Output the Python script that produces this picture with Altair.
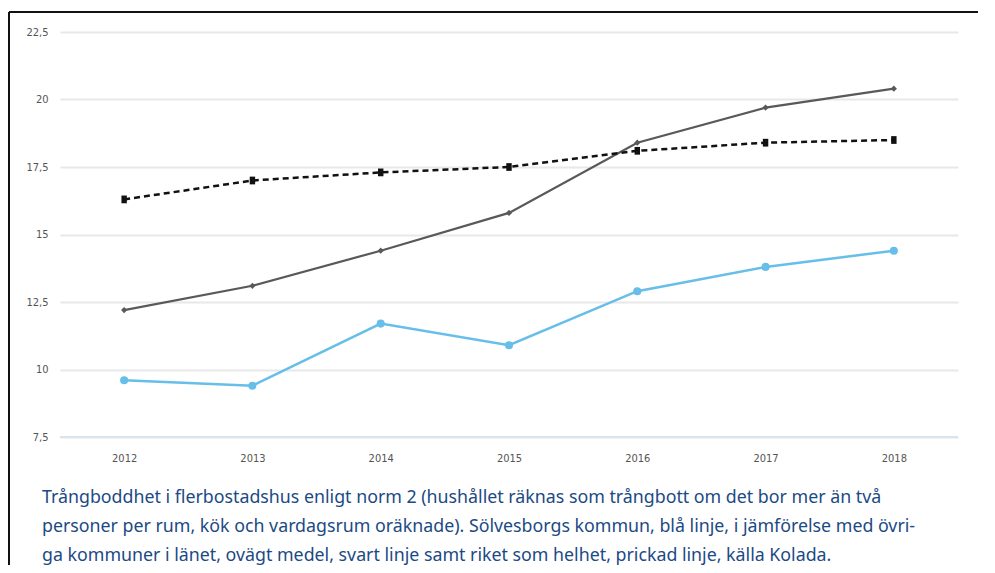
import altair as alt
import pandas as pd

years = ["2012", "2013", "2014", "2015", "2016", "2017", "2018"]
solvesborg = [9.6, 9.4, 11.7, 10.9, 12.9, 13.8, 14.4]
lanet = [12.2, 13.1, 14.4, 15.8, 18.4, 19.7, 20.4]
riket = [16.3, 17.0, 17.3, 17.5, 18.1, 18.4, 18.5]
y_ticks = [7.5, 10, 12.5, 15, 17.5, 20, 22.5]
caption_lines = [
    "Trångboddhet i flerbostadshus enligt norm 2 (hushållet räknas som trångbott om det bor mer än två",
    "personer per rum, kök och vardagsrum oräknade). Sölvesborgs kommun, blå linje, i jämförelse med övri-",
    "ga kommuner i länet, ovägt medel, svart linje samt riket som helhet, prickad linje, källa Kolada.",
]

df = pd.DataFrame({
    "year": years * 3,
    "value": solvesborg + lanet + riket,
    "series": ["Sölvesborg"] * 7 + ["Länet"] * 7 + ["Riket"] * 7,
})

label_font = "Liberation Sans Narrow, DejaVu Sans Condensed, sans-serif"
base = alt.Chart(df)
x = alt.X("year:O", title=None,
          scale=alt.Scale(type="point", padding=0.5),
          axis=alt.Axis(labelAngle=0, domain=False, ticks=False, grid=False,
                        labelPadding=15, labelFontSize=11, labelColor="#555",
                        labelFont=label_font))
y = alt.Y("value:Q", title=None,
          scale=alt.Scale(domain=[7.5, 22.5], nice=False, zero=False),
          axis=alt.Axis(values=y_ticks, domain=False, ticks=False, grid=True,
                        gridColor="#e8e8e8", gridWidth=2,
                        labelExpr="replace(format(datum.value, '.1~f'), '.', ',')",
                        labelPadding=12, labelFontSize=11, labelColor="#555",
                        labelFont=label_font))

bottom_rule = alt.Chart(pd.DataFrame({"v": [7.5]})).mark_rule(color="#d8e4ef", strokeWidth=2).encode(y=alt.Y("v:Q"))

def series_layers(name, color, dash, shape, size, width):
    f = base.transform_filter(alt.datum.series == name)
    line_kw = dict(color=color, strokeWidth=width)
    if dash:
        line_kw["strokeDash"] = dash
    line = f.mark_line(**line_kw).encode(x=x, y=y)
    pts = f.mark_point(shape=shape, size=size, filled=True, color=color, opacity=1).encode(x=x, y=y)
    return line + pts

blue = series_layers("Sölvesborg", "#66bee9", None, "circle", 65, 2.5)
gray = series_layers("Länet", "#595959", None, "diamond", 38, 2.2)
black = series_layers("Riket", "#111111", [6, 4], "M-0.7,-1L0.7,-1L0.7,1L-0.7,1Z", 60, 2.5)

frame_v = alt.Chart(pd.DataFrame({"a": [0]})).mark_rule(color="#111", strokeWidth=2).encode(
    x=alt.value(-51), y=alt.value(-20), y2=alt.value(700))
frame_h = alt.Chart(pd.DataFrame({"a": [0]})).mark_rule(color="#111", strokeWidth=2).encode(
    y=alt.value(-20), x=alt.value(-51), x2=alt.value(1000))

cap_y = [471, 500, 529]
caps = [
    alt.Chart(pd.DataFrame({"a": [0]})).mark_text(
        align="left", baseline="alphabetic", font="Noto Sans", fontSize=17.8, color="#1b4a84"
    ).encode(x=alt.value(-18), y=alt.value(cy), text=alt.value(t))
    for t, cy in zip(caption_lines, cap_y)
]

chart = alt.layer(bottom_rule, gray, black, blue, frame_v, frame_h, *caps).properties(
    width=898, height=405,
    padding={"left": 52, "top": 24, "right": 20, "bottom": 128},
    autosize=alt.AutoSizeParams(type="none"),
).configure_view(stroke=None)

chart.save("out.html", embed_options={"renderer": "svg", "actions": False})
